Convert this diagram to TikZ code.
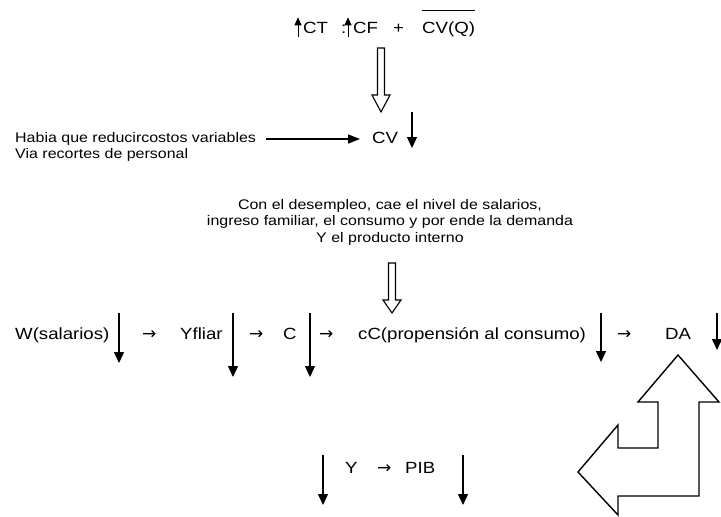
\documentclass[tikz,border=0pt]{standalone}
\usepackage{fontspec}
\setmainfont{Liberation Sans}[FakeStretch=1.15]
\newfontfamily\arrfont{DejaVu Sans}
\usetikzlibrary{arrows.meta}
\begin{document}
\begin{tikzpicture}[x=1pt,y=-1pt,
  dn/.style={-{Triangle[width=10pt,length=11pt]}, line width=1.4pt},
  hz/.style={-{Triangle[width=9pt,length=12pt]}, line width=1.4pt},
  uparr/.style={-{Triangle[width=7pt,length=8pt]}, line width=1pt},
  big/.style={font=\fontsize{16.2}{19}\selectfont, inner sep=0pt, anchor=west, text height=11.6pt, text depth=3.4pt},
  glyph/.style={font=\arrfont\fontsize{17}{19}\selectfont, inner sep=0pt, anchor=west, text height=11.6pt, text depth=3.4pt},
  small/.style={font=\fontsize{13.9}{16.5}\selectfont, inner sep=0pt},
  hollow/.style={draw, line width=1.1pt, fill=white, line join=miter},
  bent/.style={draw, line width=1.4pt, line join=miter}]
\useasboundingbox (0,0) rectangle (721,517);

% top equation
\node[big] (ct) at (303,29) {CT};
\node[big] (colon) at (341,29) {:};
\node[big] (cf) at (353,29) {CF};
\node[big] (plus) at (393,29) {+};
\node[big] (cvq) at (422,29) {CV(Q)};
\draw[line width=1.2pt] ([yshift=11pt]cvq.north west) -- ([yshift=11pt]cvq.north east);
\draw[uparr] ([xshift=-5pt]ct.south west) -- ([xshift=-5pt,yshift=4pt]ct.north west);
\draw[uparr] ([xshift=-5pt]cf.south west) -- ([xshift=-5pt,yshift=4pt]cf.north west);

% top hollow arrow
\draw[hollow] (377.5,48) -- (384.5,48) -- (384.5,95) -- (390,95) -- (381,112) -- (372,95) -- (377.5,95) -- cycle;

% CV line
\node[small, anchor=west] (hab1) at (15,139) {Habia que reducircostos variables};
\node[small, anchor=west] (hab2) at (15,155) {Via recortes de personal};
\node[big] (cv) at (372,139) {CV};
\draw[hz, shorten <=10pt, shorten >=12pt] (hab1.east) -- (hab1.east -| cv.west);
\draw[dn] (412,112) -- (412,148);

% paragraph
\node[small, align=center] (par) at (390,222) {Con el desempleo, cae el nivel de salarios,\\ingreso familiar, el consumo y por ende la demanda\\Y el producto interno};

% small hollow arrow
\draw[hollow] (388.5,263) -- (395.5,263) -- (395.5,300) -- (401,300) -- (392,313) -- (383,300) -- (388.5,300) -- cycle;

% main row
\node[big] (w) at (15,335) {W(salarios)};
\draw[dn] (119,313) -- (119,363);
\node[glyph] (a1) at (142,335) {→};
\node[big] (yf) at (180,335) {Yfliar};
\draw[dn] (233,313) -- (233,377);
\node[glyph] (a2) at (249,335) {→};
\node[big] (c) at (283,335) {C};
\draw[dn] (310,313) -- (310,377);
\node[glyph] (a3) at (319,335) {→};
\node[big] (cc) at (358,335) {cC(propensión al consumo)};
\draw[dn] (601,313) -- (601,362);
\node[glyph] (a4) at (617,335) {→};
\node[big] (da) at (665,335) {DA};
\draw[dn] (717,313) -- (717,350);

% bottom row
\draw[dn] (323,455) -- (323,505);
\node[big] (y) at (345,469) {Y};
\node[glyph] (a5) at (377,469) {→};
\node[big] (pib) at (405,469) {PIB};
\draw[dn] (463,455) -- (463,505);

% bent arrow
\draw[bent] (678,355) -- (719,402) -- (699,402) -- (699,496) -- (618,496) -- (618,515) -- (578,472) -- (618,425) -- (618,448) -- (658,448) -- (658,402) -- (638,402) -- cycle;
\end{tikzpicture}
\end{document}
